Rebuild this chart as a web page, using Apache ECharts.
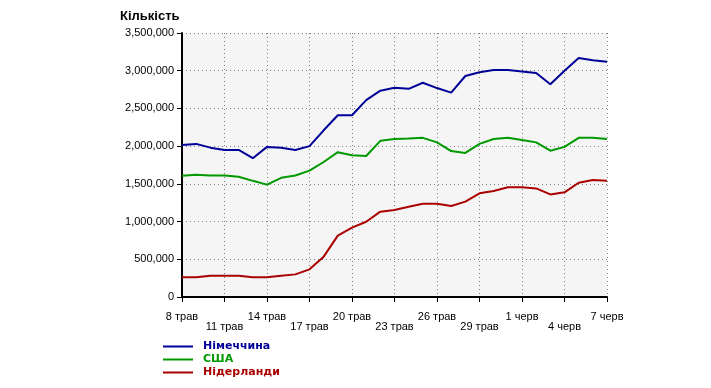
<!DOCTYPE html>
<html>
<head>
<meta charset="utf-8">
<script src="https://cdn.jsdelivr.net/npm/echarts@6/dist/echarts.min.js"></script>
<style>html,body{margin:0;padding:0;background:#fff}#c{width:711px;height:388px}</style>
</head>
<body>
<div id="c"></div>
<script>
var categories = ['8 трав','9 трав','10 трав','11 трав','12 трав','13 трав','14 трав','15 трав','16 трав','17 трав','18 трав','19 трав','20 трав','21 трав','22 трав','23 трав','24 трав','25 трав','26 трав','27 трав','28 трав','29 трав','30 трав','31 трав','1 черв','2 черв','3 черв','4 черв','5 черв','6 черв','7 черв'];
var germany = [2015000,2030000,1980000,1950000,1950000,1840000,1990000,1980000,1950000,2000000,2210000,2410000,2410000,2610000,2735000,2775000,2760000,2840000,2770000,2710000,2930000,2980000,3010000,3010000,2990000,2970000,2820000,3000000,3170000,3140000,3120000];
var usa = [1608000,1620000,1610000,1610000,1595000,1540000,1490000,1580000,1610000,1675000,1790000,1920000,1880000,1870000,2070000,2095000,2100000,2110000,2050000,1935000,1910000,2030000,2095000,2110000,2080000,2050000,1940000,1990000,2110000,2110000,2095000];
var netherlands = [261000,261000,283000,283000,283000,261000,261000,283000,300000,367000,535000,813000,919000,998000,1131000,1153000,1197000,1237000,1237000,1206000,1264000,1375000,1405000,1454000,1454000,1440000,1360000,1388000,1515000,1551000,1542000];
var seriesNames = ['Німеччина','США','Нідерланди'];
var seriesColors = ['#000099','#009900','#aa0000'];
var yTitle = 'Кількість';

var chart = echarts.init(document.getElementById('c'), null, {renderer:'canvas'});
var dotted = {type:[1,3], color:'#808080', width:1};
var values = [germany, usa, netherlands];
chart.setOption({
  animation:false,
  textStyle:{fontFamily:'Liberation Sans'},
  title:{text:yTitle, left:120, top:10, padding:0, textStyle:{fontSize:13, fontWeight:'bold', color:'#000', fontFamily:'Liberation Sans'}},
  grid:{left:182, right:104, top:33, bottom:91, show:true, backgroundColor:'#f5f5f5', borderWidth:0},
  legend:{
    orient:'vertical', left:163, top:340, padding:0, icon:'rect', itemWidth:30, itemHeight:2, itemGap:0,
    textStyle:{fontSize:11, fontWeight:'bold', fontFamily:'DejaVu Sans', padding:[0,0,0,5], lineHeight:13},
    data: seriesNames.map(function(n,i){return {name:n, textStyle:{color:seriesColors[i]}};})
  },
  xAxis:{
    type:'category', boundaryGap:false, data:categories,
    axisLine:{lineStyle:{color:'#000', width:2}},
    axisTick:{interval:2, length:5, lineStyle:{color:'#000', width:1}},
    axisLabel:{interval:2, color:'#000', fontSize:11, lineHeight:10, margin:15,
      formatter:function(v,i){return (Math.round(i/3)%2)?'\n'+v:v;}},
    splitLine:{show:true, interval:2, lineStyle:dotted}
  },
  yAxis:{
    type:'value', min:0, max:3500000, interval:500000,
    axisLine:{show:true, lineStyle:{color:'#000', width:2}},
    axisTick:{show:true, length:5, lineStyle:{color:'#000', width:1}},
    axisLabel:{color:'#000', fontSize:11, margin:8, formatter:function(v){return v.toLocaleString('en-US');}},
    splitLine:{show:true, lineStyle:dotted}
  },
  series: seriesNames.map(function(n,i){
    return {name:n, type:'line', data:values[i], symbol:'none', color:seriesColors[i], lineStyle:{width:2, color:seriesColors[i]}, z:3};
  })
});
</script>
</body>
</html>
